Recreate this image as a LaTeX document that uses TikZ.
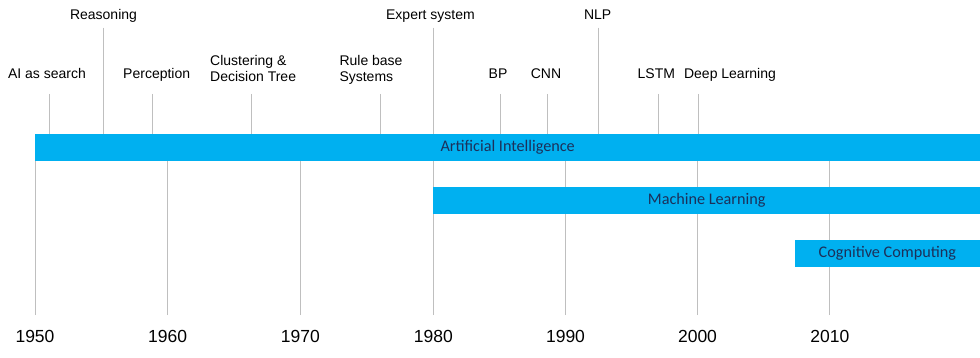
\documentclass[tikz,border=0pt]{standalone}
\usepackage{fontspec}
\setmainfont{Liberation Sans}
\newfontfamily\barfont{Carlito}
\definecolor{barblue}{HTML}{00B0F0}
\definecolor{bartext}{RGB}{28,48,90}
\definecolor{tickgray}{HTML}{BFBFBF}
\pgfdeclarelayer{bg}
\pgfsetlayers{bg,main}
\begin{document}
\begin{tikzpicture}[x=1pt,y=-1pt,
  bar/.style={fill=barblue, draw=none, anchor=north west, inner sep=0pt,
    minimum height=26.5pt, text=bartext, font=\barfont\fontsize{16.2}{18}\selectfont},
  lbl/.style={anchor=base, inner sep=0pt, font=\fontsize{14}{16}\selectfont},
  lbltwo/.style={anchor=base west, inner sep=0pt, align=left, font=\fontsize{14}{16}\selectfont},
  yearlbl/.style={anchor=base, inner sep=0pt, font=\fontsize{17.5}{20}\selectfont},
  tickline/.style={draw=tickgray, line width=1pt}]
\useasboundingbox (0,0) rectangle (980,358);

% bars
\node[bar, minimum width=945pt] (ai) at (35,134) {Artificial Intelligence};
\node[bar, minimum width=547pt] (ml) at (433,187) {Machine Learning};
\node[bar, minimum width=185.7pt] (cc) at (794.3,240) {Cognitive Computing};

% top labels
\node[lbl] (lsearch) at (47,79) {AI as search};
\node[lbl] (lreason) at (103.5,20) {Reasoning};
\node[lbl] (lpercep) at (156.7,79) {Perception};
\node[lbltwo] (lclust) at (210,81.5) {Clustering \&\\Decision Tree};
\node[lbltwo] (lrule) at (339.3,81.5) {Rule base\\Systems};
\node[lbl] (lexpert) at (430.5,20) {Expert system};
\node[lbl] (lbp) at (498,79) {BP};
\node[lbl] (lcnn) at (546,79) {CNN};
\node[lbl] (lnlp) at (597.7,20) {NLP};
\node[lbl] (llstm) at (656.3,79) {LSTM};
\node[lbl] (ldeep) at (730,79) {Deep Learning};

% top tick coordinates
\coordinate (tsearch) at (49.3,94);
\coordinate (treason) at (103.7,27.7);
\coordinate (tpercep) at (152.3,94);
\coordinate (tclust) at (251.7,94);
\coordinate (trule) at (380.7,94);
\coordinate (texpert) at (433.3,27.7);
\coordinate (tbp) at (500.3,94);
\coordinate (tcnn) at (547,94);
\coordinate (tnlp) at (598.3,27.7);
\coordinate (tlstm) at (658.3,94);
\coordinate (tdeep) at (698.7,94);

% year coordinates and labels
\foreach \yr/\xx in {1950/35,1960/167.7,1970/300.3,1980/433.3,1990/565.5,2000/697.5,2010/829.8}{
  \coordinate (y\yr) at (\xx,315);
  \node[yearlbl] (ly\yr) at (\xx,342) {\yr};
}

\begin{pgfonlayer}{bg}
\foreach \t in {tsearch,treason,tpercep,tclust,trule,texpert,tbp,tcnn,tnlp,tlstm,tdeep}{
  \draw[tickline] (\t) -- (\t |- ai.north);
}
\foreach \yr in {1950,1960,1970,1980,1990,2000,2010}{
  \draw[tickline] (y\yr) -- (y\yr |- ai.south);
}
\end{pgfonlayer}
\end{tikzpicture}
\end{document}
